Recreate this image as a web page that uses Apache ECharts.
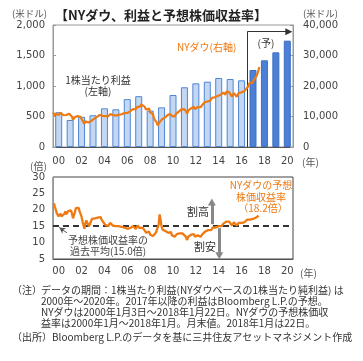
<!DOCTYPE html>
<html><head><meta charset="utf-8">
<script src="https://cdn.jsdelivr.net/npm/echarts@6/dist/echarts.min.js"></script>
<style>html,body{margin:0;padding:0;background:#fff}#c{width:363px;height:361px}</style>
</head><body><div id="c"></div>
<script>
// ---- data ----
const yearLabels = ['00','01','02','03','04','05','06','07','08','09','10','11','12','13','14','15','16','17','18','19','20'];
const forecastFrom = 17; // index of first forecast year (2017)
const eps = [570,443,495,520,634,618,785,833,597,650,852,979,1044,1071,1131,1115,1093,1262,1421,1552,1743];
const dowStart = ['2000-01-03', 11357];
const dowEnd = ['2018-01-22', 26214];
const dowMonthEnd = [
  10940,10128,10922,10734,10522,10448,10522,11215,10651,10971,10415,10787,
  10887,10495,9879,10735,10912,10502,10523,9950,8848,9075,9852,10022,
  9920,10106,10404,9946,9925,9243,8737,8664,7592,8397,8896,8342,
  8054,7891,7992,8480,8850,8985,9234,9416,9275,9801,9782,10454,
  10488,10584,10358,10226,10188,10435,10140,10174,10080,10027,10428,10783,
  10490,10766,10504,10193,10467,10275,10641,10482,10569,10440,10806,10718,
  10865,10993,11109,11367,11168,11150,11186,11381,11679,12081,12221,12463,
  12622,12269,12354,13063,13628,13409,13212,13358,13896,13930,13372,13265,
  12650,12266,12263,12820,12638,11350,11378,11544,10851,9325,8829,8776,
  8001,7063,7609,8168,8500,8447,9172,9496,9712,9713,10345,10428,
  10067,10325,10857,11009,10137,9774,10466,10015,10788,11118,11006,11578,
  11892,12226,12320,12811,12570,12414,12143,11614,10913,11955,12046,12218,
  12633,12952,13212,13214,12393,12880,13009,13091,13437,13096,13026,13104,
  13861,14054,14579,14840,15116,14910,15500,14810,15130,15546,16086,16577,
  15699,16322,16458,16581,16717,16827,16563,17098,17043,17391,17828,17823,
  17165,18133,17776,17841,18011,17620,17690,16528,16285,17664,17720,17425,
  16466,16517,17685,17774,17787,17930,18432,18401,18308,18142,19124,19763,
  19864,20812,20663,20941,21009,21350,21891,21948,22405,23377,24272,24719
];
const perMonthEnd = [
  22.0,21.0,20.0,19.0,18.5,18.0,18.2,18.8,18.0,18.3,18.0,18.8,
  19.5,18.6,18.0,19.6,20.2,19.5,19.8,18.8,17.4,17.8,19.2,20.5,
  20.8,20.2,20.6,19.5,19.2,18.0,16.5,16.8,14.2,15.8,16.8,16.0,
  15.4,15.0,15.2,16.5,17.2,17.5,17.6,17.4,16.8,17.8,17.6,18.2,
  18.0,17.8,17.0,16.5,16.2,16.0,15.4,15.5,15.2,15.0,15.6,16.0,
  15.4,15.8,15.2,14.8,15.2,15.0,15.4,15.0,15.0,14.6,15.0,14.8,
  14.8,14.8,14.6,14.8,14.4,14.2,14.0,14.2,14.4,14.8,14.8,15.0,
  14.8,14.4,14.2,14.8,15.2,14.8,14.4,14.2,14.6,14.6,14.0,13.8,
  13.2,13.0,13.0,13.6,13.4,12.4,12.4,12.6,12.0,11.8,12.4,13.0,
  13.4,13.6,15.5,18.6,17.0,15.0,14.0,13.8,13.8,13.5,13.6,13.4,
  13.0,13.2,13.4,13.2,12.2,11.8,12.4,11.8,12.4,12.6,12.4,12.8,
  12.8,13.0,12.8,12.8,12.6,12.4,12.0,11.4,10.8,11.8,11.8,12.0,
  12.4,12.6,12.8,12.6,11.8,12.2,12.2,12.2,12.4,12.0,11.8,11.8,
  12.6,12.8,13.2,13.4,13.6,13.4,13.8,13.2,13.4,13.8,14.2,14.6,
  14.0,14.6,14.6,14.8,14.8,15.0,14.8,15.2,15.0,15.4,15.8,15.8,
  15.4,16.4,16.2,16.2,16.4,16.0,16.2,15.2,15.0,16.2,16.4,16.2,
  15.2,15.2,16.0,16.0,16.0,16.0,16.4,16.4,16.2,16.0,16.6,17.0,
  17.0,17.2,17.0,17.0,17.0,17.2,17.4,17.4,17.6,17.8,18.0,18.2
];
const perEnd = ['2018-01-22', 18.2];
const perAverage = 15.0;
const leftTicks = {min:0, max:2000, interval:500};
const rightTicks = {min:0, max:40000, interval:10000};
const perTicks = {min:5, max:30, interval:5};
const notes = [
  ['（注）','データの期間：1株当たり利益(NYダウベースの1株当たり純利益) は'],
  ['','2000年～2020年。2017年以降の利益はBloomberg L.P.の予想。'],
  ['','NYダウは2000年1月3日～2018年1月22日。NYダウの予想株価収'],
  ['','益率は2000年1月～2018年1月。月末値。2018年1月は22日。'],
  ['（出所）','Bloomberg L.P.のデータを基に三井住友アセットマネジメント作成']
];

// ---- helpers ----
function monthEnd(i){ const y = 2000 + Math.floor(i/12), m = i%12; const d = new Date(y, m+1, 0); return y+'-'+String(m+1).padStart(2,'0')+'-'+String(d.getDate()).padStart(2,'0'); }
const dowData = [dowStart].concat(dowMonthEnd.map((v,i)=>[monthEnd(i), v])).concat([dowEnd]);
const perData = perMonthEnd.map((v,i)=>[monthEnd(i), v]).concat([perEnd]);
const epsData = eps.map((v,i)=> i >= forecastFrom
  ? {value:v, itemStyle:{color:'#4c80d6', borderColor:'#3d6fc2', borderWidth:1}}
  : {value:v, itemStyle:{color:'#c3d7f2', borderColor:'#5086d4', borderWidth:1}});

const F = '"Noto Sans CJK JP","Noto Sans",sans-serif';
const N = '"DejaVu Sans",sans-serif';
const ORANGE = '#ef7a12';
const lbl = {color:'#444', fontFamily:N, fontSize:10};
const tickIv = (i)=> i % 2 === 0 && i > 0;

const chart = echarts.init(document.getElementById('c'), null, {renderer:'canvas'});
function txt(x, y, s, o){ return Object.assign({type:'text', x:x, y:y, silent:true, style:Object.assign({text:s, fill:'#333', font:'10px '+F, textAlign:'left', textVerticalAlign:'middle'}, o||{})}); }
const g = [
  txt(161, 15, '【NYダウ、利益と予想株価収益率】', {font:'bold 13px '+F, fill:'#222', textAlign:'center'}),
  txt(12, 13, '(米ドル)', {fill:'#555', font:'9.5px '+F}),
  txt(303, 13, '(米ドル)', {fill:'#555', font:'9.5px '+F}),
  txt(302, 162, '(年)', {fill:'#555'}),
  txt(30, 166, '(倍)', {fill:'#555'}),
  txt(300, 273, '(年)', {fill:'#555'}),
  txt(98, 80, '1株当たり利益', {textAlign:'center'}),
  txt(98, 91, '(左軸)', {textAlign:'center'}),
  txt(177, 47, 'NYダウ(右軸)', {fill:ORANGE, font:'10px '+F}),
  txt(266, 43, '(予)', {textAlign:'center'}),
  txt(261, 185, 'NYダウの予想', {fill:ORANGE, textAlign:'center'}),
  txt(261, 197, '株価収益率', {fill:ORANGE, textAlign:'center'}),
  txt(263, 208, '（18.2倍）', {fill:ORANGE, textAlign:'center'}),
  txt(187, 212, '割高', {font:'11px '+F, fill:'#333'}),
  txt(194, 247, '割安', {font:'11px '+F, fill:'#333'}),
  txt(108, 240, '予想株価収益率の', {textAlign:'center', fill:'#444'}),
  txt(108, 251, '過去平均(15.0倍)', {textAlign:'center', fill:'#444'})
];
const noteY = [290, 301, 312, 323, 337];
notes.forEach((n,i)=>{
  if (n[0]) g.push(txt(12, noteY[i], n[0], {fill:'#333'}));
  g.push(txt(n[0]==='（出所）' ? 52 : 41, noteY[i], n[1], {fill:'#333'}));
});

chart.setOption({
  animation:false,
  grid:[
    {left:53, top:25, width:240, height:122, show:true, borderColor:'#999', borderWidth:1, backgroundColor:'transparent'},
    {left:53, top:177, width:240, height:82, show:true, borderColor:'#444', borderWidth:1, backgroundColor:'transparent'}
  ],
  xAxis:[
    {type:'category', gridIndex:0, data:yearLabels, boundaryGap:true,
     axisLine:{lineStyle:{color:'#555'}}, axisTick:{inside:true, length:3, interval:tickIv, lineStyle:{color:'#aaa'}},
     axisLabel:Object.assign({interval:1, margin:9}, lbl), splitLine:{show:false}},
    {type:'time', gridIndex:0, min:'2000-01-01', max:'2021-01-01', show:false},
    {type:'category', gridIndex:1, data:yearLabels, boundaryGap:true,
     axisLine:{lineStyle:{color:'#555'}}, axisTick:{inside:true, length:3, interval:tickIv, lineStyle:{color:'#aaa'}},
     axisLabel:Object.assign({interval:1, margin:7}, lbl), splitLine:{show:false}},
    {type:'time', gridIndex:1, min:'2000-01-01', max:'2021-01-01', show:false}
  ],
  yAxis:[
    Object.assign({type:'value', gridIndex:0, position:'left',
      axisLine:{show:true, lineStyle:{color:'#999'}}, axisTick:{show:true, inside:true, length:3, lineStyle:{color:'#999'}},
      axisLabel:Object.assign({margin:8, formatter:(v)=>v.toLocaleString('en-US')}, lbl), splitLine:{show:false}}, leftTicks),
    Object.assign({type:'value', gridIndex:0, position:'right',
      axisLine:{show:true, lineStyle:{color:'#999'}}, axisTick:{show:true, inside:true, length:3, lineStyle:{color:'#999'}},
      axisLabel:Object.assign({margin:10, formatter:(v)=>v.toLocaleString('en-US')}, lbl), splitLine:{show:false}}, rightTicks),
    Object.assign({type:'value', gridIndex:1, position:'left',
      axisLine:{show:true, lineStyle:{color:'#999'}}, axisTick:{show:false},
      axisLabel:Object.assign({margin:8}, lbl), splitLine:{show:false}}, perTicks)
  ],
  series:[
    {type:'bar', xAxisIndex:0, yAxisIndex:0, data:epsData, barWidth:7, silent:true},
    {type:'line', xAxisIndex:1, yAxisIndex:1, data:dowData, showSymbol:false, silent:true,
     lineStyle:{color:ORANGE, width:2.2}, z:5,
     markLine:{silent:true, symbol:'none', label:{show:false}, animation:false,
       data:[
         [{coord:['2017-01-01',0]},{coord:['2017-01-01',37800]}],
         [{coord:['2017-01-01',37800]},{coord:['2020-08-20',37800], symbol:'triangle', symbolSize:[7,7]}]
       ],
       lineStyle:{color:'#333', width:1, type:'solid'}}},
    {type:'line', xAxisIndex:3, yAxisIndex:2, data:perData, showSymbol:false, silent:true,
     lineStyle:{color:ORANGE, width:2.3}, z:5,
     markLine:{silent:true, symbol:'none', label:{show:false}, animation:false,
       data:[
         {yAxis:perAverage, lineStyle:{color:'#333', width:2, type:[6,4]}},
         [{coord:['2013-11-25',15.6]},{coord:['2013-11-25',22.4], symbol:'triangle', symbolSize:[8,7], lineStyle:{color:'#888', width:3, type:'solid'}}],
         [{coord:['2014-07-20',14.4]},{coord:['2014-07-20',6.0], symbol:'triangle', symbolSize:[8,7], lineStyle:{color:'#888', width:3, type:'solid'}}],
         [{coord:['2001-03-20',13.0]},{coord:['2000-07-20',14.6], symbol:'arrow', symbolSize:[5,6], lineStyle:{color:'#555', width:1, type:'solid'}}]
       ]}}
  ],
  graphic:g
});
</script></body></html>
